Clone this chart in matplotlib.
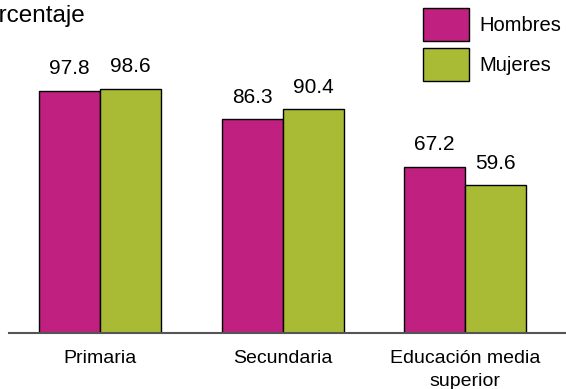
import matplotlib
matplotlib.use('Agg')
import matplotlib.pyplot as plt
import numpy as np

plt.rcParams['font.family'] = ['Liberation Sans', 'DejaVu Sans']

categorias = ['Primaria', 'Secundaria', 'Educación media\nsuperior']
hombres = [97.8, 86.3, 67.2]
mujeres = [98.6, 90.4, 59.6]
series = ['Hombres', 'Mujeres']
colores = ['#C0207F', '#A9BA35']

W, H = 566, 389
fig = plt.figure(figsize=(W / 100, H / 100), dpi=100)
ax = fig.add_axes([9 / W, 1 - 333 / H, 1 - 9 / W, 333 / H])

x = np.arange(len(categorias))
ancho = 0.334
b1 = ax.bar(x - ancho / 2, hombres, ancho, color=colores[0], edgecolor='black', linewidth=1, label=series[0])
b2 = ax.bar(x + ancho / 2, mujeres, ancho, color=colores[1], edgecolor='black', linewidth=1, label=series[1])

for barras in (b1, b2):
    for b in barras:
        ax.annotate(f'{b.get_height():.1f}', (b.get_x() + b.get_width() / 2, b.get_height()),
                    xytext=(0, 9), textcoords='offset points', ha='center', va='bottom', fontsize=15)

ax.set_xlim(-0.5, 2.553)
ax.set_ylim(0, 134.5)
ax.set_xticks(x)
ax.set_xticklabels(categorias, fontsize=14, linespacing=1.5)
ax.tick_params(axis='x', length=0, pad=12)
ax.set_yticks([])
for s in ['top', 'right', 'left']:
    ax.spines[s].set_visible(False)
ax.spines['bottom'].set_color('#555555')
ax.spines['bottom'].set_linewidth(1.5)

fig.legend(loc='upper left', bbox_to_anchor=(423 / W, 1 - 8 / H), frameon=False, fontsize=14.5,
           handlelength=2.29, handleheight=2.16, labelspacing=0.35, handletextpad=0.5,
           borderpad=0, borderaxespad=0)

fig.text(-31 / W, 1 - 22 / H, 'Porcentaje', fontsize=17.5, ha='left', va='baseline')

fig.savefig('out.png', dpi=100)
